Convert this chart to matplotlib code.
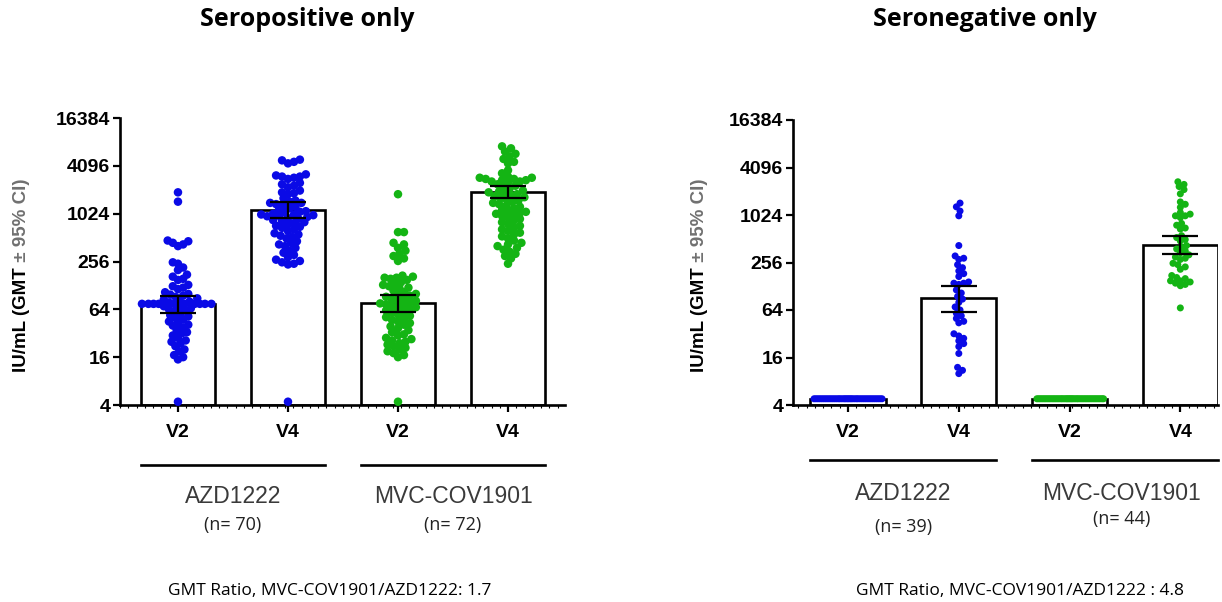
import numpy as np
import matplotlib
matplotlib.use('Agg')
import matplotlib.pyplot as plt
from matplotlib.ticker import FixedLocator, MultipleLocator, NullLocator

# ---- data (IU/mL) ----
groups = ["AZD1222", "MVC-COV1901"]
visits = ["V2", "V4", "V2", "V4"]
yticks = [4, 16, 64, 256, 1024, 4096, 16384]

# seropositive
pos_azd_v2 = [1900, 1450, 470, 460, 440, 420, 400, 250, 240, 215, 200, 175, 165, 155, 150,
              130, 125, 120, 115, 105, 100, 98, 95, 92, 88, 85, 82, 80, 78,
              75, 75, 75, 75, 75, 75, 75, 75, 75, 75, 70, 68, 66, 64, 62, 60,
              56, 54, 52, 50, 48, 45, 43, 41, 40, 38, 35, 33, 32, 30, 28, 26, 25, 24,
              22, 20, 19, 17, 16, 15, 4.4]
pos_azd_v4 = [4900, 4800, 4600, 4400, 3200, 3100, 3000, 3000, 2900, 2800, 2500, 2400, 2300, 2200,
              2000, 1900, 1850, 1800, 1600, 1500, 1450, 1400, 1400, 1350, 1300, 1250,
              1200, 1150, 1100, 1080, 1050, 1020, 1000, 1000, 980, 960, 950, 930,
              900, 880, 850, 820, 800, 780, 750, 720, 700, 680, 650, 620,
              580, 560, 540, 520, 500, 460, 440, 420, 400, 380, 350, 330, 310, 290,
              270, 260, 250, 240, 235, 4.4]
pos_mvc_v2 = [1800, 600, 600, 440, 420, 380, 350, 320, 300, 280, 260,
              170, 165, 160, 160, 155, 150, 140, 135, 130, 125, 120, 118,
              110, 105, 100, 98, 95, 92, 88, 85, 82, 80, 78, 76, 74, 72,
              70, 68, 66, 64, 62, 60, 58, 55, 53, 51, 49, 47, 45, 43, 41, 39, 37, 35,
              33, 31, 30, 28, 27, 26, 25, 24, 23, 22, 21, 20, 19, 18, 17, 16, 4.4]
pos_mvc_v4 = [7200, 6800, 6200, 5800, 5400, 5000, 4600, 4400, 3600, 3300,
              3000, 2900, 2900, 2800, 2800, 2700, 2700, 2600, 2600, 2500,
              2400, 2300, 2200, 2100, 2000, 1950, 1900, 1850, 1800, 1750, 1700, 1650, 1600,
              1550, 1500, 1450, 1400, 1350, 1300, 1250, 1200, 1150, 1100, 1080, 1050, 1020, 1000,
              960, 920, 880, 840, 800, 760, 720, 680, 650, 620, 590, 560, 530, 500,
              470, 440, 420, 400, 380, 360, 340, 320, 300, 280, 240]
pos_gmt = [75, 1140, 78, 1900]
pos_lo = [58, 900, 60, 1600]
pos_hi = [95, 1450, 98, 2300]

# seronegative
neg_azd_v2 = [4.8] * 39
neg_azd_v4 = [1450, 1300, 1150, 1000, 420, 310, 290, 280, 240, 220, 200, 185, 170,
              145, 140, 140, 135, 115, 105, 95, 88, 80, 70, 64, 58, 54, 50, 46, 44,
              32, 30, 28, 26, 24, 22, 18, 12, 11, 10]
neg_mvc_v2 = [4.8] * 44
neg_mvc_v4 = [2700, 2500, 2350, 2150, 1900, 1500, 1400, 1280, 1100, 1050, 1000, 1000, 950,
              800, 760, 700, 680, 560, 530, 500, 480, 420, 400, 380, 360, 340, 320, 300, 290, 280,
              250, 240, 225, 210, 175, 165, 160, 150, 150, 145, 140, 135, 130, 68]
neg_gmt = [4.8, 90, 4.8, 430]
neg_lo = [4.8, 60, 4.8, 330]
neg_hi = [4.8, 130, 4.8, 560]

colors = ['#0a0ae6', '#0a0ae6', '#14b414', '#14b414']

TICKFONT = 'Liberation Sans'


def swarm_x(ax, xc, vals, d, maxhw):
    # simple beeswarm in pixel space
    disp = ax.transData.transform(np.column_stack([np.full(len(vals), xc), vals]))
    ys = disp[:, 1]
    order = np.argsort(ys)
    step = d / 4.0
    cands = [0.0]
    for j in range(1, 600):
        cands += [j * step, -j * step]
    px, py = [], []
    offs = np.zeros(len(vals))
    for i in order:
        for c in cands:
            ok = True
            for qx, qy in zip(px, py):
                if (c - qx) ** 2 + (ys[i] - qy) ** 2 < d * d:
                    ok = False
                    break
            if ok:
                break
        offs[i] = c
        px.append(c)
        py.append(ys[i])
    m = np.abs(offs).max()
    if m > maxhw:
        offs = offs * maxhw / m
    unit = ax.transData.transform((1, 4))[0] - ax.transData.transform((0, 4))[0]
    return xc + offs / unit


def panel(ax, series, gmt, lo, hi, xlim, diam, maxhw, line_y, lab_y, n_y, n_texts, mvc_x):
    ax.set_yscale('log', base=2)
    ax.set_ylim(4, 16384)
    ax.set_xlim(*xlim)
    x = np.arange(4)
    gmt = np.array(gmt, dtype=float)
    ax.bar(x, gmt - 4, bottom=4, width=0.68, color='white', edgecolor='black',
           linewidth=1.9, zorder=1)
    s = (diam * 0.72) ** 2
    for i, vals in enumerate(series):
        xs = swarm_x(ax, i, vals, diam * 0.7, maxhw)
        ax.scatter(xs, vals, s=s, color=colors[i], edgecolors='none', zorder=3, clip_on=False)
    lo = np.array(lo, dtype=float)
    hi = np.array(hi, dtype=float)
    keep = hi > lo
    ax.errorbar(x[keep], gmt[keep], yerr=[gmt[keep] - lo[keep], hi[keep] - gmt[keep]],
                fmt='none', ecolor='black', elinewidth=1.6, capsize=13, capthick=1.6, zorder=4)

    for sp in ['top', 'right']:
        ax.spines[sp].set_visible(False)
    for sp in ['left', 'bottom']:
        ax.spines[sp].set_linewidth(1.9)
    ax.yaxis.set_major_locator(FixedLocator(yticks))
    ax.yaxis.set_minor_locator(NullLocator())
    ax.set_yticklabels([str(t) for t in yticks], fontfamily=TICKFONT, fontweight='bold', fontsize=14)
    ax.set_xticks(x)
    ax.set_xticklabels(visits, fontfamily=TICKFONT, fontweight='bold', fontsize=14)
    ax.xaxis.set_minor_locator(MultipleLocator(0.075))
    ax.tick_params(axis='y', length=5, width=1.6, pad=2)
    ax.tick_params(axis='x', which='major', length=5, width=1.6, pad=9)
    ax.tick_params(axis='x', which='minor', length=2, width=0.8)

    tr = ax.get_xaxis_transform()
    for gx in [0, 2]:
        ax.plot([gx - 0.34, gx + 1.34], [line_y, line_y], color='black', lw=1.9,
                transform=tr, clip_on=False)
    ax.text(0.5, lab_y[0], groups[0], transform=tr, ha='center', va='center',
            fontfamily=TICKFONT, fontsize=16.5, color='#3a3a3a')
    ax.text(mvc_x, lab_y[1], groups[1], transform=tr, ha='center', va='center',
            fontfamily=TICKFONT, fontsize=16.5, color='#3a3a3a')
    ax.text(0.5, n_y[0], n_texts[0], transform=tr, ha='center', va='center',
            fontfamily='Open Sans', fontsize=13, color='#222222')
    ax.text(mvc_x, n_y[1], n_texts[1], transform=tr, ha='center', va='center',
            fontfamily='Open Sans', fontsize=13, color='#222222')


fig = plt.figure(figsize=(12.22, 6.02), dpi=100)
ax1 = fig.add_axes([120 / 1222, 197 / 602, 445 / 1222, 287 / 602])
ax2 = fig.add_axes([793 / 1222, 197 / 602, 425 / 1222, 285 / 602])

panel(ax1, [pos_azd_v2, pos_azd_v4, pos_mvc_v2, pos_mvc_v4], pos_gmt, pos_lo, pos_hi,
      (-0.527, 3.518), 8.5, 36, -0.209, (-0.32, -0.32), (-0.418, -0.418),
      ["(n= 70)", "(n= 72)"], 2.5)
panel(ax2, [neg_azd_v2, neg_azd_v4, neg_mvc_v2, neg_mvc_v4], neg_gmt, neg_lo, neg_hi,
      (-0.497, 3.34), 7.0, 34, -0.193, (-0.309, -0.309), (-0.428, -0.40),
      ["(n= 39)", "(n= 44)"], 2.47)

# y labels, two tones
for xf in [22 / 1222, 700 / 1222]:
    t1 = fig.text(xf, 1 - 372 / 602, "IU/mL (GMT", rotation=90, ha='center', va='bottom',
                  fontfamily=TICKFONT, fontweight='bold', fontsize=13.5, color='black')
    plt.annotate(" \u00b1 95% CI)", xy=(0.5, 1), xycoords=t1, rotation=90,
                 ha='center', va='bottom', fontfamily=TICKFONT, fontweight='bold',
                 fontsize=13.5, color='#707070', annotation_clip=False)

fig.text(307 / 1222, 1 - 20 / 602, "Seropositive only", ha='center', va='center',
         fontfamily='Open Sans', fontweight='bold', fontsize=18)
fig.text(985 / 1222, 1 - 20 / 602, "Seronegative only", ha='center', va='center',
         fontfamily='Open Sans', fontweight='bold', fontsize=18)

fig.text(330 / 1222, 1 - 591 / 602, "GMT Ratio, MVC-COV1901/AZD1222: 1.7", ha='center',
         va='center', fontfamily='Open Sans', fontsize=12.5)
fig.text(1020 / 1222, 1 - 591 / 602, "GMT Ratio, MVC-COV1901/AZD1222 : 4.8", ha='center',
         va='center', fontfamily='Open Sans', fontsize=12.5)

fig.savefig('out.png', dpi=100)
